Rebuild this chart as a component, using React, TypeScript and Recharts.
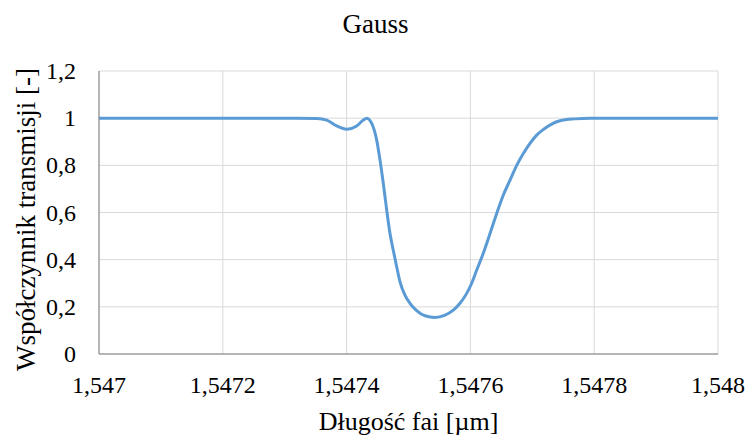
import React from 'react';
import { LineChart, Line, XAxis, YAxis, CartesianGrid } from 'recharts';

// wavelength [um] and transmission
const wavelengths = [
  1.547, 1.5471, 1.5472, 1.5473, 1.5473522, 1.5473679, 1.547384, 1.5474002,
  1.5474163, 1.547427, 1.5474325, 1.5474406, 1.5474486, 1.547454, 1.5474593,
  1.5474648, 1.5474701, 1.5474754, 1.5474809, 1.5474863, 1.5474943, 1.5475024,
  1.5475132, 1.5475267, 1.5475428, 1.547559, 1.5475724, 1.5475832, 1.547594,
  1.5476021, 1.5476102, 1.5476208, 1.5476317, 1.5476425, 1.5476532, 1.547664,
  1.5476748, 1.5476855, 1.5476963, 1.5477071, 1.5477178, 1.5477313, 1.5477447,
  1.547769, 1.5477932, 1.5479, 1.548,
];
const transmission = [
  1, 1, 1, 1, 0.999, 0.992, 0.967, 0.953,
  0.967, 0.992, 1.0, 0.978, 0.907, 0.822, 0.723,
  0.61, 0.511, 0.44, 0.37, 0.306, 0.25, 0.215,
  0.184, 0.162, 0.155, 0.165, 0.186, 0.215, 0.257,
  0.3, 0.356, 0.427, 0.511, 0.596, 0.674, 0.737,
  0.8, 0.85, 0.893, 0.928, 0.952, 0.975, 0.989,
  0.997, 1, 1, 1,
];
const xTicks = [1.547, 1.5472, 1.5474, 1.5476, 1.5478, 1.548];
const yTicks = [0, 0.2, 0.4, 0.6, 0.8, 1, 1.2];

const data = wavelengths.map((w, i) => ({ w, t: transmission[i] }));

const font = '"Liberation Serif", "Times New Roman", serif';
const comma = (v: number) => String(v).replace('.', ',');

// custom tick text so the serif face is used for sure
const XTick = (p: any) => (
  <text
    x={p.x}
    y={p.y + 39}
    textAnchor="middle"
    style={{ fontFamily: font, fontSize: 24 }}
    fill="#000"
  >
    {comma(p.payload.value)}
  </text>
);

const YTick = (p: any) => (
  <text
    x={p.x - 23}
    y={p.y + 8}
    textAnchor="end"
    style={{ fontFamily: font, fontSize: 24 }}
    fill="#000"
  >
    {comma(p.payload.value)}
  </text>
);

export default function App() {
  return (
    <div style={{ position: 'relative', width: 751, height: 439 }}>
      <style>{'body{margin:0}'}</style>
      <svg
        width={751}
        height={50}
        style={{ position: 'absolute', left: 0, top: 0 }}
      >
        <text
          x={375.5}
          y={33}
          textAnchor="middle"
          style={{ fontFamily: font, fontSize: 27 }}
          fill="#000"
        >
          Gauss
        </text>
      </svg>
      <LineChart
        width={751}
        height={439}
        data={data}
        margin={{ top: 71, right: 33, bottom: 0, left: 0 }}
      >
        <CartesianGrid stroke="#d9d9d9" />
        <XAxis
          dataKey="w"
          type="number"
          domain={[1.547, 1.548]}
          ticks={xTicks}
          height={85}
          tickLine={false}
          tickSize={0}
          tickMargin={0}
          stroke="#7f7f7f"
          tick={<XTick />}
          label={{
            content: (p: any) => (
              <text
                x={p.viewBox.x + p.viewBox.width / 2}
                y={430}
                textAnchor="middle"
                style={{ fontFamily: font, fontSize: 26 }}
                fill="#000"
              >
                Długość fai [µm]
              </text>
            ),
          }}
        />
        <YAxis
          type="number"
          domain={[0, 1.2]}
          ticks={yTicks}
          width={99}
          tickLine={false}
          tickSize={0}
          tickMargin={0}
          stroke="#7f7f7f"
          tick={<YTick />}
          label={{
            content: (p: any) => {
              const cy = p.viewBox.y + p.viewBox.height / 2 + 7;
              return (
                <text
                  x={35}
                  y={cy}
                  transform={`rotate(-90, 35, ${cy})`}
                  textAnchor="middle"
                  style={{ fontFamily: font, fontSize: 27 }}
                  fill="#000"
                >
                  Współczynnik transmisji [-]
                </text>
              );
            },
          }}
        />
        <Line
          type="monotone"
          dataKey="t"
          stroke="#5b9bd5"
          strokeWidth={3}
          dot={false}
          isAnimationActive={false}
        />
      </LineChart>
    </div>
  );
}
